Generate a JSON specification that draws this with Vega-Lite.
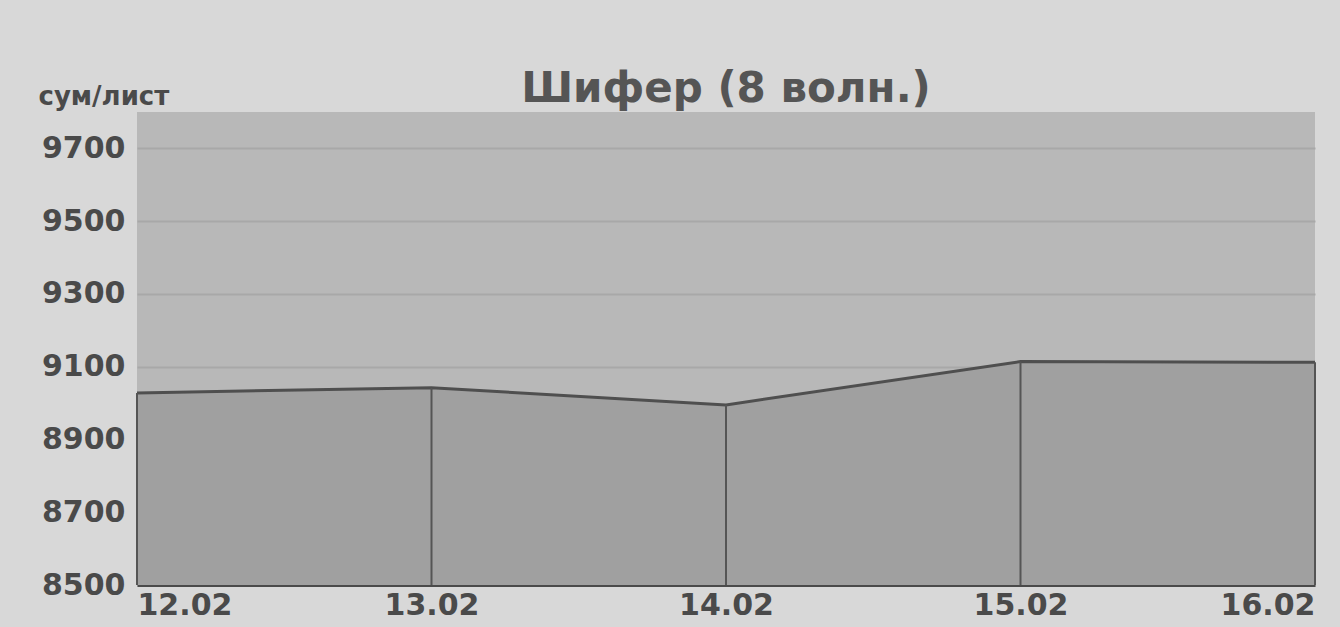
{
  "$schema": "https://vega.github.io/schema/vega-lite/v6.json",
  "width": 1178,
  "height": 473,
  "autosize": {"type": "none"},
  "padding": {"left": 137, "top": 112, "right": 25, "bottom": 42},
  "background": "#d8d8d8",
  "config": {
    "view": {"fill": "#b8b8b8", "stroke": null},
    "font": "DejaVu Sans"
  },
  "title": {
    "text": "Шифер (8 волн.)",
    "anchor": "middle",
    "fontSize": 42,
    "fontWeight": "bold",
    "font": "DejaVu Sans",
    "color": "#555555",
    "offset": -28
  },
  "data": {
    "values": [
      {"date": "2010-02-12", "price": 9028},
      {"date": "2010-02-13", "price": 9042},
      {"date": "2010-02-14", "price": 8995},
      {"date": "2010-02-15", "price": 9114},
      {"date": "2010-02-16", "price": 9112}
    ]
  },
  "encoding": {
    "x": {
      "field": "date",
      "type": "temporal",
      "scale": {"type": "utc", "nice": false},
      "axis": {
        "title": null,
        "format": "%d.%m",
        "values": [
          {"year": 2010, "month": 2, "date": 12, "utc": true},
          {"year": 2010, "month": 2, "date": 13, "utc": true},
          {"year": 2010, "month": 2, "date": 14, "utc": true},
          {"year": 2010, "month": 2, "date": 15, "utc": true},
          {"year": 2010, "month": 2, "date": 16, "utc": true}
        ],
        "labelFlush": true,
        "labelFont": "DejaVu Sans",
        "labelFontWeight": "bold",
        "labelFontSize": 30,
        "labelColor": "#4a4a4a",
        "labelPadding": 5,
        "ticks": false,
        "grid": false,
        "domainColor": "#4a4a4a",
        "domainWidth": 3
      }
    },
    "y": {
      "field": "price",
      "type": "quantitative",
      "scale": {"domain": [8500, 9800], "nice": false, "zero": false},
      "axis": {
        "title": "сум/лист",
        "titleAngle": 0,
        "titleAlign": "left",
        "titleBaseline": "alphabetic",
        "titleX": -99,
        "titleY": -8,
        "titleFont": "DejaVu Sans",
        "titleFontWeight": "bold",
        "titleFontSize": 26,
        "titleColor": "#4a4a4a",
        "values": [8500, 8700, 8900, 9100, 9300, 9500, 9700],
        "format": "d",
        "labelFont": "DejaVu Sans",
        "labelFontWeight": "bold",
        "labelFontSize": 30,
        "labelColor": "#4a4a4a",
        "labelPadding": 12,
        "ticks": false,
        "domain": false,
        "grid": true,
        "gridColor": "#a8a8a8",
        "gridWidth": 2
      }
    }
  },
  "layer": [
    {
      "mark": {
        "type": "area",
        "color": "#a0a0a0",
        "opacity": 1,
        "line": {"color": "#4f4f4f", "strokeWidth": 3}
      },
      "encoding": {
        "y2": {"datum": 8500}
      }
    },
    {
      "mark": {"type": "rule", "color": "#555555", "strokeWidth": 2},
      "encoding": {
        "y2": {"datum": 8500}
      }
    }
  ]
}
